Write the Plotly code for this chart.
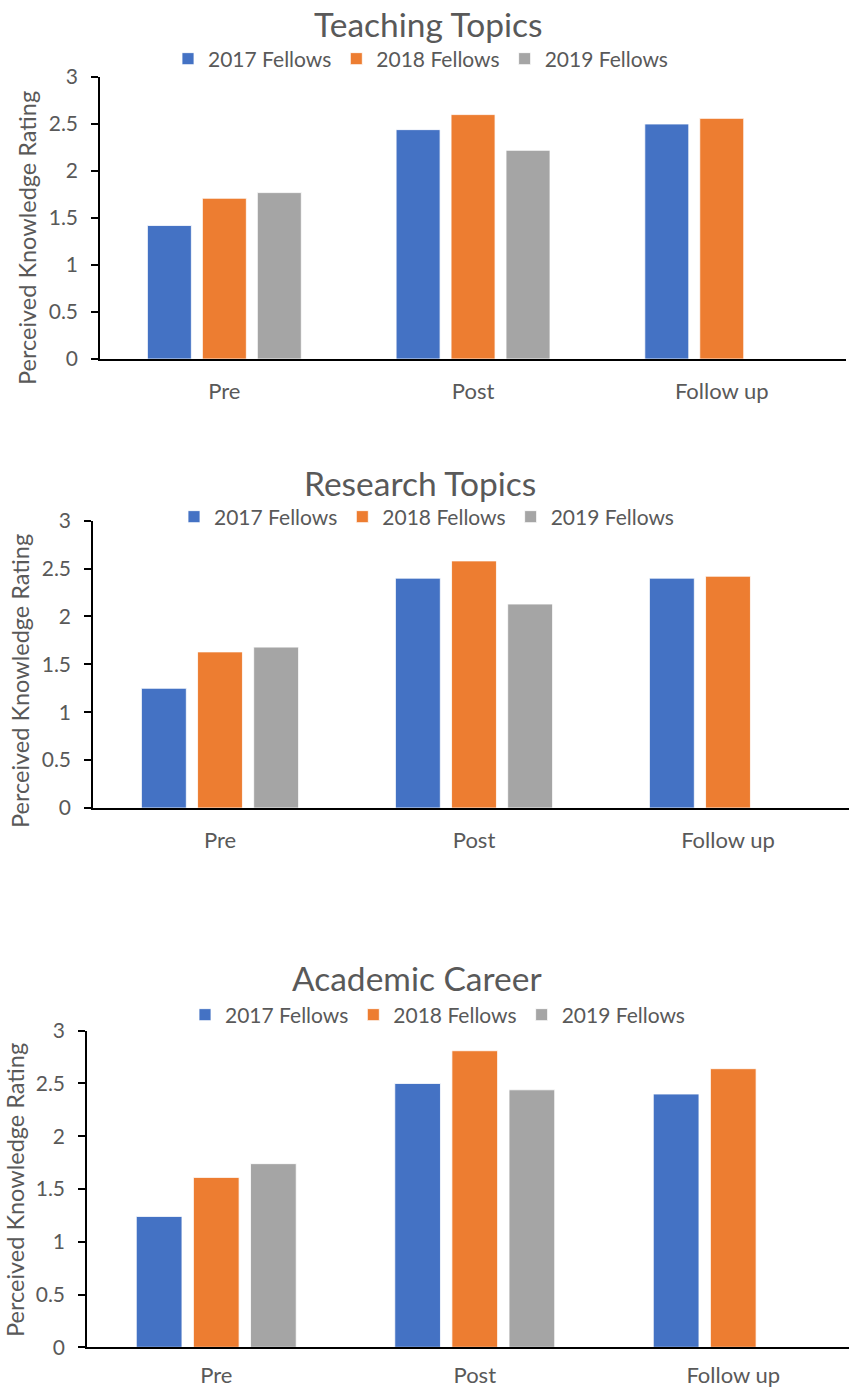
import plotly.graph_objects as go

categories = ["Pre", "Post", "Follow up"]
series_names = ["2017 Fellows", "2018 Fellows", "2019 Fellows"]
colors = ["#4472C4", "#ED7D31", "#A5A5A5"]

teaching_2017 = [1.42, 2.44, 2.50]
teaching_2018 = [1.71, 2.60, 2.56]
teaching_2019 = [1.77, 2.22, None]

research_2017 = [1.25, 2.40, 2.40]
research_2018 = [1.63, 2.58, 2.42]
research_2019 = [1.68, 2.13, None]

career_2017 = [1.24, 2.50, 2.40]
career_2018 = [1.61, 2.81, 2.64]
career_2019 = [1.74, 2.44, None]

panel_titles = ["Teaching Topics", "Research Topics", "Academic Career"]
y_title = "Perceived Knowledge Rating"
y_ticks = [0, 0.5, 1, 1.5, 2, 2.5, 3]
y_ticktext = ["0", "0.5", "1", "1.5", "2", "2.5", "3"]

W, H = 849, 1390
FONT = "Lato, 'Open Sans', sans-serif"
TXT = "#595959"


def px(x):
    return x / W


def py(y):
    return 1 - y / H


# layout geometry in window pixels
panels = [
    dict(x0=100, x1=846, yt=77, yb=359, cw=248.7, title_y=24, title_x=428, leg_y=59, leg_x=168,
         ytx=27, yty=238, xstand=12),
    dict(x0=93, x1=849, yt=520.7, yb=808, cw=254, title_y=483, title_x=420, leg_y=517, leg_x=174,
         ytx=20, yty=681, xstand=12),
    dict(x0=87, x1=849, yt=1030.7, yb=1347.3, cw=258.5, title_y=978, title_x=417, leg_y=1015, leg_x=185,
         ytx=15, yty=1190, xstand=8),
]
data = [
    [teaching_2017, teaching_2018, teaching_2019],
    [research_2017, research_2018, research_2019],
    [career_2017, career_2018, career_2019],
]

fig = go.Figure()
annotations = []
layout = dict(
    width=W, height=H, autosize=False,
    margin=dict(l=0, r=0, t=0, b=0, pad=0, autoexpand=False),
    paper_bgcolor="white", plot_bgcolor="white",
    font=dict(family=FONT, color=TXT),
    barmode="group",
)

for i, (p, vals) in enumerate(zip(panels, data)):
    n = "" if i == 0 else str(i + 1)
    leg = "legend" if i == 0 else f"legend{i+1}"
    for j in range(3):
        fig.add_trace(go.Bar(
            x=categories, y=vals[j], name=series_names[j],
            marker=dict(color=colors[j], line=dict(color="white", width=0.8)),
            xaxis="x" + n, yaxis="y" + n, legend=leg,
            offsetgroup=str(j),
        ))
    span = (p["x1"] - p["x0"]) / p["cw"]
    layout["xaxis" + n] = dict(
        domain=[px(p["x0"]), min(1.0, px(p["x1"]))],
        anchor="y" + n,
        range=[-0.5, -0.5 + span],
        showline=True, linecolor="black", linewidth=1.5,
        ticks="", showgrid=False, zeroline=False,
        tickfont=dict(size=22, color=TXT, family=FONT),
        ticklabelstandoff=p["xstand"], automargin=False,
        fixedrange=True,
    )
    layout["yaxis" + n] = dict(
        domain=[py(p["yb"]), py(p["yt"])],
        anchor="x" + n,
        range=[0, 3],
        tickvals=y_ticks, ticktext=y_ticktext,
        showline=True, linecolor="black", linewidth=1.5,
        ticks="outside", ticklen=7, tickcolor="black", tickwidth=1.5,
        showgrid=False, zeroline=False,
        tickfont=dict(size=21, color=TXT, family=FONT),
        ticklabelstandoff=9, automargin=False,
        fixedrange=True,
    )
    layout[leg] = dict(
        orientation="h", x=px(p["leg_x"]), xanchor="left",
        y=py(p["leg_y"]), yanchor="middle",
        font=dict(size=21, color=TXT, family=FONT),
        bgcolor="rgba(0,0,0,0)", itemclick=False, itemdoubleclick=False,
        traceorder="normal",
    )
    annotations.append(dict(
        text=panel_titles[i], x=px(p["title_x"]), y=py(p["title_y"]),
        xref="paper", yref="paper", xanchor="center", yanchor="middle",
        showarrow=False, font=dict(size=33.5, color=TXT, family=FONT),
    ))
    annotations.append(dict(
        text=y_title, x=px(p["ytx"]), y=py(p["yty"]),
        xref="paper", yref="paper", xanchor="center", yanchor="middle",
        textangle=-90, showarrow=False, font=dict(size=23.5, color=TXT, family=FONT),
    ))

layout["annotations"] = annotations
layout["bargap"] = 0.337
layout["bargroupgap"] = 0.2
fig.update_layout(**layout)
fig.write_html(
    "out.html",
    config={"displayModeBar": False},
    post_script="document.body.style.margin='0';document.body.style.overflow='hidden';",
)
